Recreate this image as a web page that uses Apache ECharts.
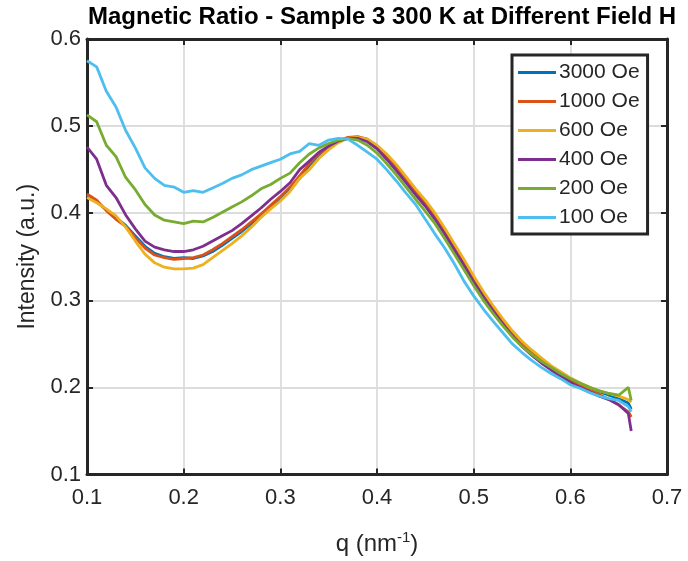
<!DOCTYPE html>
<html>
<head>
<meta charset="utf-8">
<script src="https://cdn.jsdelivr.net/npm/echarts@6/dist/echarts.min.js"></script>
<style>html,body{margin:0;padding:0;background:#fff}#c{width:688px;height:561px}</style>
</head>
<body>
<div id="c"></div>
<script>
var q = [0.10,0.11,0.12,0.13,0.14,0.15,0.16,0.17,0.18,0.19,0.20,0.21,0.22,0.23,0.24,0.25,0.26,0.27,0.28,0.29,0.30,0.31,0.32,0.33,0.34,0.35,0.36,0.37,0.38,0.39,0.40,0.41,0.42,0.43,0.44,0.45,0.46,0.47,0.48,0.49,0.50,0.51,0.52,0.53,0.54,0.55,0.56,0.57,0.58,0.59,0.60,0.61,0.62,0.63,0.64,0.65,0.66,0.663];
var oe3000 = [0.421,0.413,0.404,0.395,0.386,0.374,0.362,0.354,0.350,0.348,0.349,0.348,0.351,0.356,0.363,0.371,0.379,0.388,0.397,0.407,0.417,0.427,0.440,0.455,0.467,0.476,0.482,0.486,0.487,0.483,0.475,0.463,0.450,0.436,0.422,0.410,0.395,0.378,0.360,0.342,0.323,0.305,0.289,0.274,0.260,0.249,0.239,0.230,0.222,0.215,0.209,0.204,0.199,0.195,0.191,0.187,0.182,0.175];
var oe1000 = [0.422,0.415,0.403,0.393,0.385,0.372,0.360,0.352,0.349,0.347,0.348,0.349,0.352,0.358,0.365,0.373,0.381,0.390,0.399,0.409,0.419,0.430,0.443,0.457,0.468,0.477,0.483,0.487,0.488,0.485,0.477,0.466,0.453,0.439,0.425,0.412,0.397,0.380,0.362,0.344,0.325,0.307,0.291,0.276,0.262,0.250,0.240,0.231,0.222,0.215,0.208,0.202,0.197,0.192,0.186,0.180,0.172,0.166];
var oe600 = [0.418,0.412,0.405,0.397,0.384,0.368,0.353,0.343,0.338,0.336,0.336,0.337,0.341,0.349,0.357,0.365,0.374,0.384,0.395,0.405,0.414,0.425,0.440,0.450,0.463,0.473,0.481,0.486,0.487,0.485,0.478,0.468,0.456,0.442,0.428,0.415,0.400,0.383,0.365,0.347,0.328,0.310,0.294,0.279,0.265,0.253,0.243,0.234,0.225,0.218,0.211,0.205,0.200,0.196,0.193,0.190,0.186,0.183];
var oe400 = [0.476,0.462,0.432,0.418,0.398,0.382,0.368,0.361,0.358,0.356,0.356,0.358,0.362,0.368,0.374,0.380,0.388,0.397,0.406,0.416,0.425,0.435,0.450,0.460,0.470,0.477,0.483,0.486,0.486,0.482,0.474,0.462,0.449,0.435,0.421,0.408,0.393,0.376,0.358,0.340,0.321,0.304,0.288,0.273,0.259,0.247,0.237,0.228,0.220,0.213,0.206,0.200,0.195,0.190,0.186,0.180,0.170,0.150];
var oe200 = [0.513,0.505,0.478,0.465,0.441,0.427,0.410,0.398,0.392,0.390,0.388,0.391,0.390,0.395,0.401,0.407,0.413,0.420,0.428,0.433,0.440,0.446,0.458,0.468,0.475,0.480,0.484,0.486,0.484,0.478,0.469,0.457,0.444,0.430,0.416,0.402,0.388,0.371,0.353,0.335,0.317,0.300,0.285,0.271,0.258,0.247,0.238,0.230,0.223,0.216,0.210,0.205,0.200,0.196,0.193,0.191,0.200,0.185];
var oe100 = [0.575,0.568,0.540,0.522,0.495,0.475,0.452,0.440,0.432,0.430,0.424,0.426,0.424,0.429,0.434,0.440,0.444,0.450,0.454,0.458,0.462,0.468,0.471,0.480,0.478,0.484,0.486,0.485,0.478,0.470,0.462,0.450,0.437,0.423,0.410,0.393,0.376,0.360,0.342,0.322,0.305,0.290,0.276,0.263,0.250,0.240,0.231,0.223,0.216,0.210,0.203,0.199,0.194,0.190,0.187,0.185,0.178,0.172];
var seriesNames = ['3000 Oe','1000 Oe','600 Oe','400 Oe','200 Oe','100 Oe'];
var seriesValues = [oe3000, oe1000, oe600, oe400, oe200, oe100];
var colors = ['#0072BD','#D95319','#EDB120','#7E2F8E','#77AC30','#4DBEEE'];
var xTicks = [0.1,0.2,0.3,0.4,0.5,0.6,0.7];
var yTicks = [0.1,0.2,0.3,0.4,0.5,0.6];

var FONT = 'Liberation Sans, Arial, sans-serif';
var chart = echarts.init(document.getElementById('c'), null, {renderer:'canvas'});
var series = seriesNames.map(function(n, i){
  return {
    name: n, type: 'line', showSymbol: false, symbol: 'none',
    data: q.map(function(x, k){ return [x, seriesValues[i][k]]; }),
    lineStyle: {width: 2.8, color: colors[i]}, itemStyle: {color: colors[i]},
    xAxisIndex: 0, yAxisIndex: 0, animation: false, z: 3 + i
  };
});
var gridLine = {show: true, lineStyle: {color: '#dcdcdc', width: 1.8}};
var tickIn = {show: true, inside: true, length: 6, lineStyle: {color: '#262626', width: 2}};
var axLine = {show: true, lineStyle: {color: '#262626', width: 3}};
chart.setOption({
  backgroundColor: '#fff',
  animation: false,
  title: {
    text: 'Magnetic Ratio - Sample 3 300 K at Different Field H',
    left: 377, top: 0, textAlign: 'center',
    textStyle: {fontFamily: FONT, fontSize: 24, fontWeight: 'bold', color: '#000'}
  },
  grid: {left: 87, top: 39, right: 21, bottom: 85, containLabel: false},
  legend: {
    left: 512, top: 55, orient: 'vertical', itemGap: 8,
    icon: 'rect', itemWidth: 38, itemHeight: 3,
    backgroundColor: '#fff', borderColor: '#262626', borderWidth: 3,
    padding: [7, 8, 6, 6],
    textStyle: {fontFamily: FONT, fontSize: 21, lineHeight: 21, color: '#262626', padding: [0,0,0,-2]},
    data: seriesNames
  },
  xAxis: [
    {type: 'value', min: 0.1, max: 0.7, interval: 0.1, position: 'bottom',
     name: 'q (nm{sup|-1})', nameLocation: 'middle', nameGap: 56,
     nameTextStyle: {fontFamily: FONT, fontSize: 24, color: '#262626',
       rich: {sup: {fontFamily: FONT, fontSize: 15, color: '#262626', verticalAlign: 'top', padding: [0,0,12,0]}}},
     axisLine: axLine, axisTick: tickIn, splitLine: gridLine,
     axisLabel: {fontFamily: FONT, fontSize: 22, color: '#262626', margin: 12,
       formatter: function(v){ return v.toFixed(1); }}},
    {type: 'value', min: 0.1, max: 0.7, interval: 0.1, position: 'top',
     axisLine: axLine, axisTick: tickIn, splitLine: {show: false}, axisLabel: {show: false}}
  ],
  yAxis: [
    {type: 'value', min: 0.1, max: 0.6, interval: 0.1, position: 'left',
     name: 'Intensity (a.u.)', nameLocation: 'middle', nameGap: 48,
     nameTextStyle: {fontFamily: FONT, fontSize: 23, color: '#262626'},
     axisLine: axLine, axisTick: tickIn, splitLine: gridLine,
     axisLabel: {fontFamily: FONT, fontSize: 22, color: '#262626', margin: 6,
       formatter: function(v){ return v.toFixed(1); }}},
    {type: 'value', min: 0.1, max: 0.6, interval: 0.1, position: 'right',
     axisLine: axLine, axisTick: tickIn, splitLine: {show: false}, axisLabel: {show: false}}
  ],
  series: series
});
</script>
</body>
</html>
